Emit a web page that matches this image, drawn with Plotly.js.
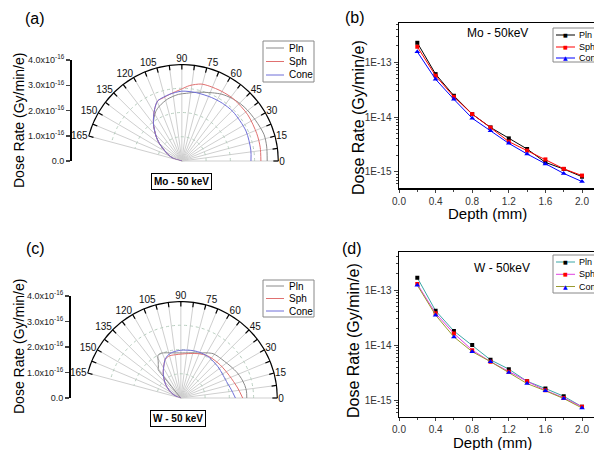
<!DOCTYPE html>
<html>
<head>
<meta charset="utf-8">
<script src="https://cdn.plot.ly/plotly-3.0.1.min.js"></script>
<style>html,body{margin:0;padding:0;background:#fff;}#chart{width:594px;height:450px;}</style>
</head>
<body>
<div id="chart"></div>
<script>
// ---------- Polar panels: dose rate (units of 1e-16 Gy/min/e) vs angle (deg) ----------
// (a) Mo - 50 keV
const moPlnTheta  = [0, 10, 18, 29, 38, 44, 52, 59, 66, 78, 86, 93, 103, 112, 118, 127, 136, 142, 147, 155, 164, 170];
const moPlnR      = [3.52, 3.55, 3.56, 3.47, 3.42, 3.38, 3.3, 3.21, 3.08, 2.9, 2.8, 2.75, 2.62, 2.45, 2.3, 1.95, 1.48, 1.18, 0.91, 0.62, 0.36, 0];
const moSphTheta  = [0, 10, 20, 35, 50, 60, 70, 76, 84, 91, 100, 106, 112, 118, 127, 136, 142, 147, 155, 164, 170];
const moSphR      = [3.26, 3.28, 3.29, 3.32, 3.33, 3.31, 3.29, 3.27, 3.13, 2.95, 2.8, 2.72, 2.67, 2.4, 1.95, 1.48, 1.18, 0.91, 0.62, 0.36, 0];
const moConeTheta = [0, 9, 25, 44, 55, 65, 78, 90, 100, 106, 112, 118, 127, 136, 142, 147, 155, 164, 170];
const moConeR     = [2.85, 2.88, 2.92, 2.93, 2.91, 2.89, 2.88, 2.88, 2.8, 2.74, 2.67, 2.4, 1.95, 1.48, 1.18, 0.91, 0.62, 0.36, 0];
// (c) W - 50 keV
const wPlnTheta  = [0, 6, 11, 18, 24, 32, 40, 48, 54, 60, 68, 76, 84, 92, 100, 108, 114, 118, 122, 126, 128.5, 129, 129.5, 130];
const wPlnR      = [2.72, 2.72, 2.69, 2.62, 2.55, 2.44, 2.35, 2.3, 2.26, 2.15, 2.0, 1.92, 1.87, 1.86, 1.89, 1.96, 2.02, 2.0, 1.76, 1.58, 1.5, 1.0, 0.5, 0];
const wSphTheta  = [0, 10, 25, 40, 55, 65, 75, 85, 95, 105, 112, 118, 124, 130, 138, 147, 155, 162, 165];
const wSphR      = [2.55, 2.38, 2.2, 2.12, 2.07, 2.0, 1.9, 1.83, 1.8, 1.8, 1.72, 1.5, 1.3, 1.1, 0.85, 0.57, 0.35, 0.15, 0];
const wConeTheta = [0, 10, 20, 30, 40, 55, 65, 75, 90, 100, 107, 112, 117, 124, 130, 138, 147, 155, 162, 165];
const wConeR     = [2.25, 2.1, 2.0, 1.98, 2.0, 2.04, 2.04, 2.02, 1.97, 1.92, 1.84, 1.72, 1.53, 1.3, 1.1, 0.85, 0.57, 0.35, 0.15, 0];

const angTickVals = [0, 7.5, 15, 22.5, 30, 37.5, 45, 52.5, 60, 67.5, 75, 82.5, 90, 97.5, 105, 112.5, 120, 127.5, 135, 142.5, 150, 157.5, 165];
const angTickText = ['0', ' ', '15', ' ', '30', ' ', '45', ' ', '60', ' ', '75', ' ', '90', ' ', '105', ' ', '120', ' ', '135', ' ', '150', ' ', '165'];
const radRange = [0, 4];
const radTickVals = [0, 1, 2, 3, 4];
const radTickText = ['0.0', '1.0x10<sup>-16</sup>', '2.0x10<sup>-16</sup>', '3.0x10<sup>-16</sup>', '4.0x10<sup>-16</sup>'];

// ---------- Log panels: dose rate vs depth ----------
const depth = [0.2, 0.4, 0.6, 0.8, 1.0, 1.2, 1.4, 1.6, 1.8, 2.0];
// (b) Mo - 50keV
const moPln  = [2.28e-13, 6.1e-14, 2.45e-14, 1.13e-14, 6.46e-15, 4.07e-15, 2.6e-15, 1.48e-15, 1.12e-15, 8.1e-16];
const moSph  = [1.93e-13, 5.7e-14, 2.34e-14, 1.13e-14, 6.4e-15, 3.55e-15, 2.43e-15, 1.68e-15, 1.13e-15, 8.5e-16];
const moCone = [1.56e-13, 4.9e-14, 2.11e-14, 9.5e-15, 5.6e-15, 3.3e-15, 2.11e-15, 1.38e-15, 9.3e-16, 6.6e-16];
// (d) W - 50keV
const wPln  = [1.67e-13, 4.2e-14, 1.8e-14, 1.0e-14, 5.4e-15, 3.66e-15, 2.2e-15, 1.63e-15, 1.18e-15, 7.6e-16];
const wSph  = [1.28e-13, 3.77e-14, 1.63e-14, 8.1e-15, 5.0e-15, 3.27e-15, 2.2e-15, 1.51e-15, 1.1e-15, 7.6e-16];
const wCone = [1.22e-13, 3.5e-14, 1.41e-14, 7.6e-15, 5.0e-15, 3.18e-15, 2.0e-15, 1.48e-15, 1.07e-15, 7.2e-16];
const logTickVals = [1e-15, 1e-14, 1e-13];
const logTickText = ['1E-15', '1E-14', '1E-13'];
const depthTicks = [0.0, 0.4, 0.8, 1.2, 1.6, 2.0];

const seriesNames = ['Pln', 'Sph', 'Cone'];
const polarColors = ['#8a8a8a', '#e07070', '#6f6fd8'];
const moLineColors = ['#000000', '#ff0000', '#0000ff'];
const wLineColors = ['#3aa6a6', '#e040e0', '#9a9a30'];
const markerColors = ['#000000', '#ff0000', '#0000ff'];
const markerSymbols = ['square', 'square', 'triangle-up'];
const markerGlyphs = ['\u25A0', '\u25A0', '\u25B2'];

const FONT = 'Liberation Sans, Arial, sans-serif';
const W = 594, H = 450;
const px = x => x / W;
const py = y => 1 - y / H;

const traces = [];
function polarTrace(theta, r, i, subplot) {
  return {type: 'scatterpolar', mode: 'lines', theta: theta, r: r, name: seriesNames[i], subplot: subplot, showlegend: false,
          line: {color: polarColors[i], width: 1, shape: 'spline', smoothing: 0.8}, hoverinfo: 'skip'};
}
// outer frame arc of each polar panel (axis decoration at the radial maximum)
function arcTrace(subplot) {
  return {type: 'scatterpolar', mode: 'lines', theta: angTickVals, r: angTickVals.map(() => radRange[1]), subplot: subplot,
          showlegend: false, cliponaxis: false, line: {color: '#000', width: 2.2}, hoverinfo: 'skip'};
}
traces.push(polarTrace(moPlnTheta, moPlnR, 0, 'polar'));
traces.push(polarTrace(moSphTheta, moSphR, 1, 'polar'));
traces.push(polarTrace(moConeTheta, moConeR, 2, 'polar'));
traces.push(arcTrace('polar'));
traces.push(polarTrace(wPlnTheta, wPlnR, 0, 'polar2'));
traces.push(polarTrace(wSphTheta, wSphR, 1, 'polar2'));
traces.push(polarTrace(wConeTheta, wConeR, 2, 'polar2'));
traces.push(arcTrace('polar2'));

function logTrace(y, i, lineColors, xa, ya) {
  return {type: 'scatter', mode: 'lines+markers', x: depth, y: y, name: seriesNames[i], xaxis: xa, yaxis: ya, showlegend: false,
          line: {color: lineColors[i], width: 1}, marker: {color: markerColors[i], symbol: markerSymbols[i], size: i === 2 ? 5 : 4}};
}
traces.push(logTrace(moPln, 0, moLineColors, 'x', 'y'));
traces.push(logTrace(moSph, 1, moLineColors, 'x', 'y'));
traces.push(logTrace(moCone, 2, moLineColors, 'x', 'y'));
traces.push(logTrace(wPln, 0, wLineColors, 'x2', 'y2'));
traces.push(logTrace(wSph, 1, wLineColors, 'x2', 'y2'));
traces.push(logTrace(wCone, 2, wLineColors, 'x2', 'y2'));
// carriers for the detached radial scales of the polar panels (no marks)
traces.push({type: 'scatter', x: [], y: [], xaxis: 'x3', yaxis: 'y3', showlegend: false});
traces.push({type: 'scatter', x: [], y: [], xaxis: 'x4', yaxis: 'y4', showlegend: false});

function polarLayout(dx, dy) {
  return {
    domain: {x: dx, y: dy},
    sector: [0, 165],
    bgcolor: '#ffffff',
    radialaxis: {range: radRange, tickvals: [1, 2, 3, 4], showticklabels: false, ticks: '', showline: false,
                 gridcolor: '#b9cfc0', griddash: 'dot', gridwidth: 1},
    angularaxis: {tickmode: 'array', tickvals: angTickVals, ticktext: angTickText, ticks: 'inside', ticklen: 5,
                  tickcolor: '#000', tickwidth: 1.2, showline: false,
                  gridcolor: '#cfcfcf', gridwidth: 1, tickfont: {family: FONT, size: 10, color: '#111'},
                  direction: 'counterclockwise', rotation: 0}
  };
}

const logX = (dom, anchor) => ({domain: dom, anchor: anchor, range: [0, 2.131], tickmode: 'array', tickvals: depthTicks, tickformat: '.1f',
  ticks: 'outside', ticklen: 3, showline: true, linecolor: '#000', linewidth: 1.5, mirror: true, showgrid: false,
  zeroline: false, tickfont: {family: FONT, size: 10, color: '#333'},
  minor: {dtick: 0.2, ticks: 'outside', ticklen: 2, showgrid: false}});
const logY = (dom, range, anchor) => ({domain: dom, type: 'log', range: range, anchor: anchor, tickmode: 'array',
  tickvals: logTickVals, ticktext: logTickText, ticks: 'outside', ticklen: 4, showline: true, linecolor: '#000',
  linewidth: 1.5, showgrid: false, zeroline: false, tickfont: {family: FONT, size: 10, color: '#333'},
  minor: {dtick: 'D1', ticks: 'outside', ticklen: 2, showgrid: false}});
const radY = (dom, pos) => ({domain: dom, anchor: 'free', position: pos, range: radRange, tickmode: 'array',
  tickvals: radTickVals, ticktext: radTickText, ticks: 'outside', ticklen: 4, tickwidth: 1.5, showline: true,
  linecolor: '#000', linewidth: 2, showgrid: false, zeroline: false, tickfont: {family: FONT, size: 9, color: '#222'}});

const ann = (text, x, y, size, extra) => Object.assign({text: text, x: px(x), y: py(y), xref: 'paper', yref: 'paper',
  showarrow: false, xanchor: 'center', yanchor: 'middle', font: {family: FONT, size: size, color: '#000'}}, extra || {});

const annotations = [
  ann('(a)', 35, 18, 16), ann('(b)', 355, 17, 16), ann('(c)', 35, 248, 16), ann('(d)', 352, 248, 16),
  ann('<b>Mo - 50 keV</b>', 181, 181, 10, {bordercolor: '#000', borderwidth: 1, borderpad: 2, bgcolor: '#fff'}),
  ann('<b>W - 50 keV</b>', 178, 418, 10, {bordercolor: '#000', borderwidth: 1, borderpad: 2, bgcolor: '#fff'}),
  ann('Mo - 50keV', 497, 33, 12), ann('W - 50keV', 502, 268, 12),
  ann('Dose Rate (Gy/min/e)', 19, 121, 14, {textangle: -90}),
  ann('Dose Rate (Gy/min/e)', 19, 347, 14, {textangle: -90}),
  ann('Dose Rate (Gy/min/e)', 358, 118, 16, {textangle: -90}),
  ann('Dose Rate (Gy/min/e)', 353, 341, 16, {textangle: -90}),
  ann('Depth (mm)', 487, 213, 15), ann('Depth (mm)', 492, 442, 15)
];
const shapes = [];

// hand-built compact legends (box, line samples, optional marker glyph, labels)
function addLegend(box, rowY, lineX, textX, lineColors, withMarkers, fontSize) {
  shapes.push({type: 'rect', xref: 'paper', yref: 'paper', x0: px(box[0]), x1: px(box[2]), y0: py(box[1]), y1: py(box[3]),
               line: {color: '#888', width: 1}, fillcolor: '#fff', layer: 'above'});
  seriesNames.forEach((nm, i) => {
    shapes.push({type: 'line', xref: 'paper', yref: 'paper', x0: px(lineX[0]), x1: px(lineX[1]), y0: py(rowY[i]), y1: py(rowY[i]),
                 line: {color: lineColors[i], width: 1}, layer: 'above'});
    if (withMarkers) {
      annotations.push(ann(markerGlyphs[i], (lineX[0] + lineX[1]) / 2, rowY[i], i === 2 ? 6 : 5,
        {font: {family: 'DejaVu Sans', size: i === 2 ? 6 : 5, color: markerColors[i]}}));
    }
    annotations.push(ann(nm, textX, rowY[i], fontSize, {xanchor: 'left'}));
  });
}
addLegend([263, 41, 314, 82], [48, 61.5, 75], [266, 284], 287, polarColors, false, 10);
addLegend([263, 280, 314, 317], [286, 298.5, 311], [266, 284], 287, polarColors, false, 10);
addLegend([553, 28, 600, 62], [35, 47, 58], [556, 575], 577, moLineColors, true, 9);
addLegend([553, 255, 600, 293], [262, 274.3, 286.5], [556, 575], 577, wLineColors, true, 9);

const layout = {
  width: W, height: H, margin: {l: 0, r: 0, t: 0, b: 0}, paper_bgcolor: '#fff', plot_bgcolor: '#fff',
  font: {family: FONT, color: '#000'}, showlegend: false,
  polar: polarLayout([px(88), px(279)], [py(161), py(64)]),
  polar2: polarLayout([px(87), px(278)], [py(398), py(301)]),
  xaxis: logX([px(399), 1], 'y'),
  yaxis: logY([py(188), py(23)], [-15.298, -12.28], 'x'),
  xaxis2: logX([px(399), 1], 'y2'),
  yaxis2: logY([py(416.7), py(252.3)], [-15.30, -12.315], 'x2'),
  xaxis3: {domain: [0.12, 0.125], visible: false, anchor: 'y3'},
  yaxis3: radY([py(161), py(60)], px(71)),
  xaxis4: {domain: [0.12, 0.125], visible: false, anchor: 'y4'},
  yaxis4: radY([py(398), py(296)], px(70)),
  annotations: annotations,
  shapes: shapes
};

Plotly.newPlot('chart', traces, layout, {staticPlot: true, displayModeBar: false});
</script>
</body>
</html>
